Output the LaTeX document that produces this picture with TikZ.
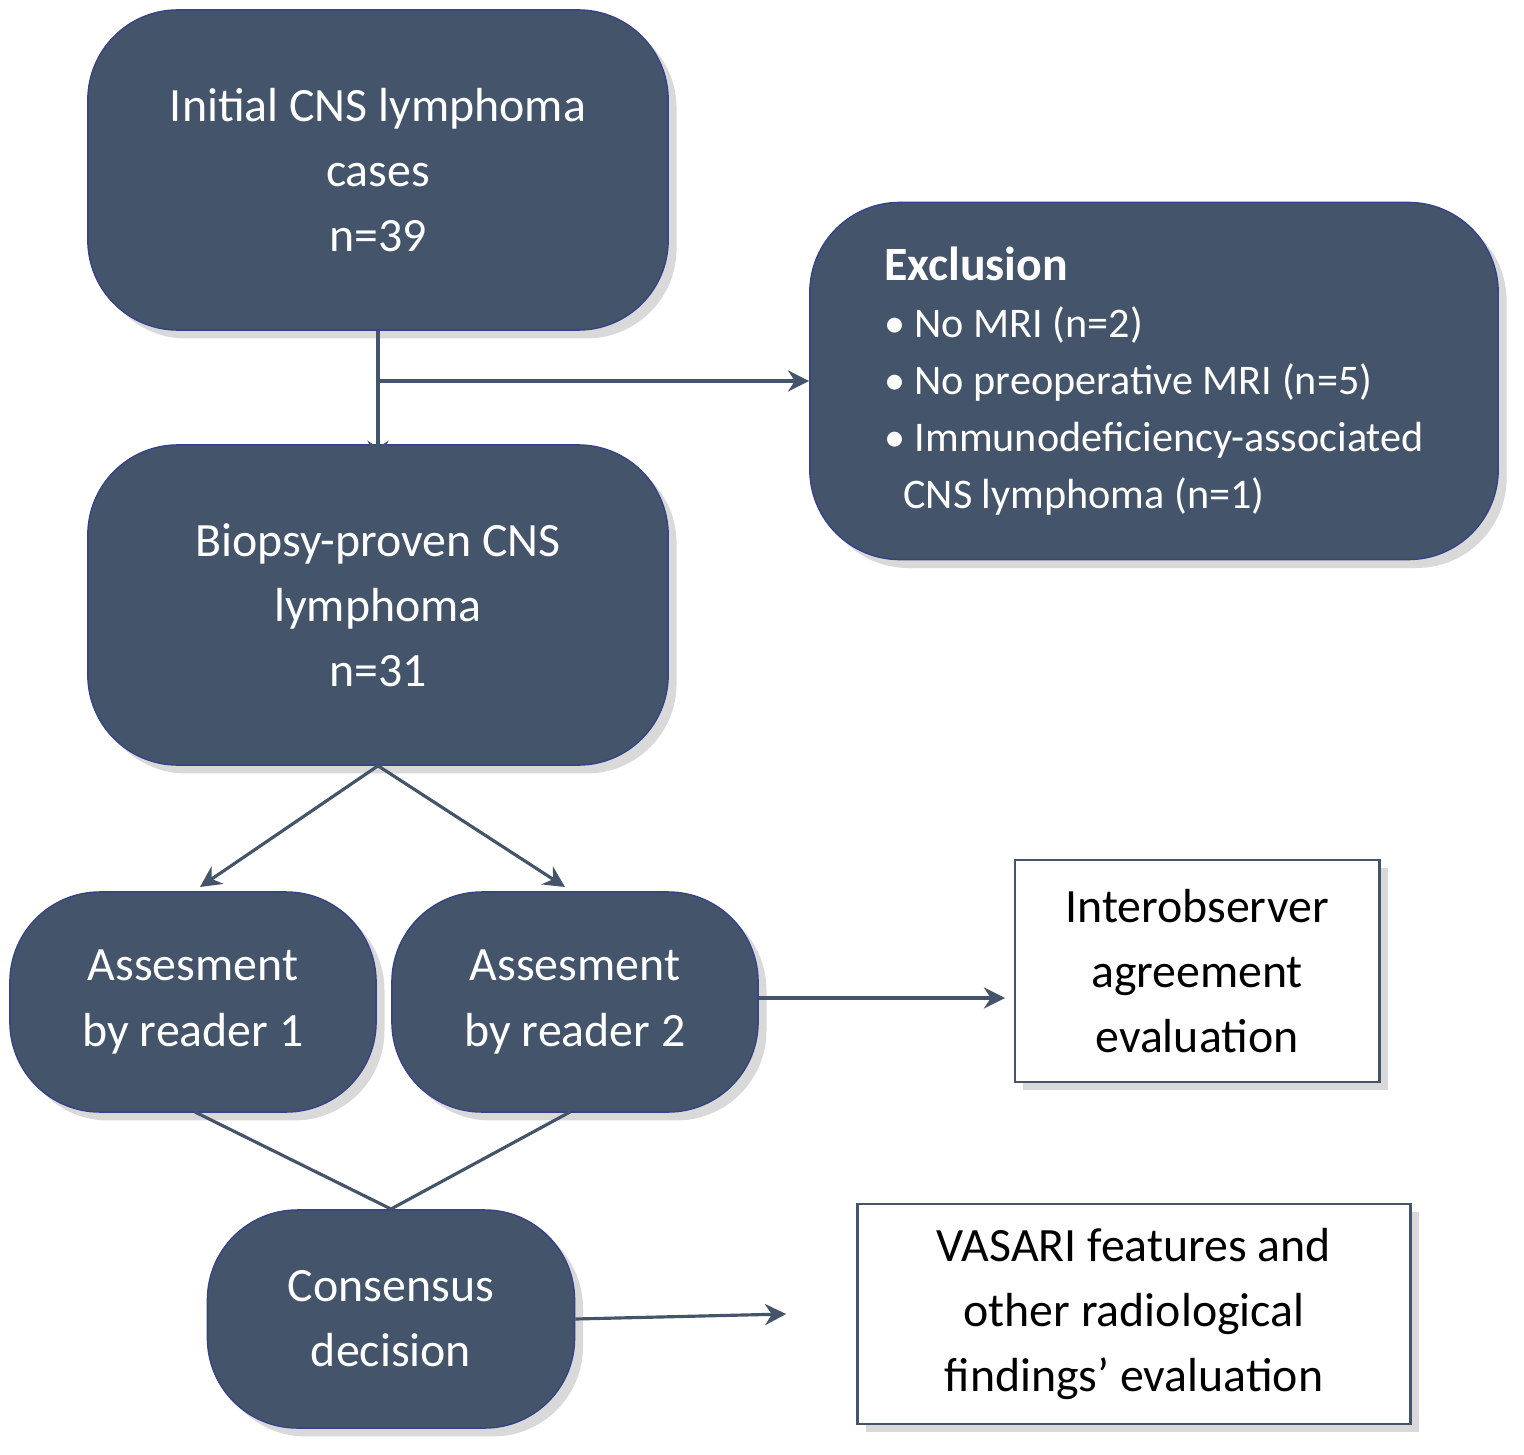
\documentclass[tikz,border=0pt]{standalone}
\usepackage{fontspec}
\setmainfont{Carlito}
\usetikzlibrary{arrows.meta,shadows}
\definecolor{slate}{HTML}{44546A}
\definecolor{wire}{HTML}{44546A}
\begin{document}
\begin{tikzpicture}[x=0.01cm,y=-0.01cm,
	dark/.style={fill=slate,draw=slate!80!blue,rounded corners=0.9cm,text=white,align=center,font=\fontsize{13.6}{18.5}\selectfont,drop shadow={opacity=0.3}},
	light/.style={fill=white,draw=slate,thick,align=center,font=\fontsize{13.6}{18.5}\selectfont,drop shadow={opacity=0.3}},
	conn/.style={draw=wire,line width=0.9pt},
	arr/.style={conn,-{Stealth[length=6pt,width=6pt]}}]
	\useasboundingbox (0,0) rectangle (1524,1455);

	\node[dark,minimum width=5.8cm,minimum height=3.2cm] (init) at (378,170) {Initial CNS lymphoma\\cases\\n=39};
	\node[dark,minimum width=6.88cm,minimum height=3.57cm,align=left,font=\fontsize{12}{16.2}\selectfont] (excl) at (1154,381)
		{\hfill\textbf{\fontsize{13.6}{16}\selectfont Exclusion}\hfill\null\\
		\textbullet\ No MRI (n=2)\\
		\textbullet\ No preoperative MRI (n=5)\\
		\textbullet\ Immunodeficiency-associated\\
		\ \ CNS lymphoma (n=1)};
	\node[dark,minimum width=5.8cm,minimum height=3.2cm] (bio) at (378,605) {Biopsy-proven CNS\\lymphoma\\n=31};
	\node[dark,minimum width=3.66cm,minimum height=2.2cm] (rd1) at (193,1002) {Assesment\\by reader 1};
	\node[dark,minimum width=3.66cm,minimum height=2.2cm] (rd2) at (575,1002) {Assesment\\by reader 2};
	\node[light,minimum width=3.64cm,minimum height=2.22cm] (inter) at (1197,971) {Interobserver\\agreement\\evaluation};
	\node[dark,minimum width=3.67cm,minimum height=2.18cm] (cons) at (391,1319) {Consensus\\decision};
	\node[light,minimum width=5.52cm,minimum height=2.2cm] (vas) at (1134,1314) {VASARI features and\\other radiological\\findings’ evaluation};

	% connectors
	\coordinate (split) at (378,381);
	\coordinate (rd1top) at (200,887);
	\coordinate (rd2top) at (565,887);
	\coordinate (join) at (391,1209);
	\draw[arr] (init.south) -- ([yshift=-5]bio.north);
	\draw[arr] (split) -- (excl.west);
	\draw[arr] (bio.south) -- (rd1top);
	\draw[arr] (bio.south) -- (rd2top);
	\draw[arr] (rd2.east |- 0,998) -- (1005,998);
	\draw[conn] (195,1112) -- (join) -- (570,1112);
	\draw[arr] (cons.east) -- ([xshift=-20]vas.west);
\end{tikzpicture}
\end{document}
